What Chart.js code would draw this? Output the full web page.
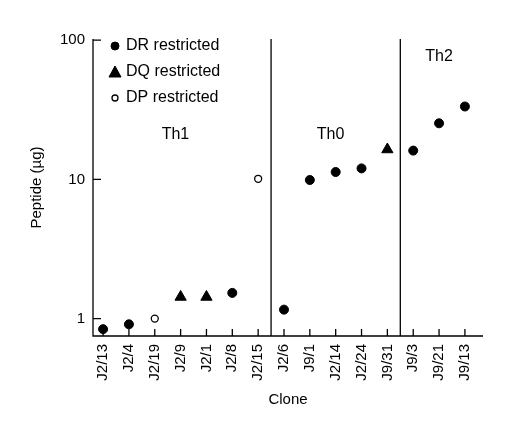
<!DOCTYPE html>
<html>
<head>
<meta charset="utf-8">
<script src="https://cdn.jsdelivr.net/npm/chart.js@4.4.0/dist/chart.umd.min.js"></script>
<style>
  html, body { margin: 0; padding: 0; background: #fff; }
  #wrap { width: 512px; height: 427px; }
</style>
</head>
<body>
<div id="wrap"><canvas id="clones" width="512" height="427"></canvas></div>
<script>
// Clone names along the x axis
const clones = ['J2/13', 'J2/4', 'J2/19', 'J2/9', 'J2/1', 'J2/8', 'J2/15',
                'J2/6', 'J9/1', 'J2/14', 'J2/24', 'J9/31', 'J9/3', 'J9/21', 'J9/13'];

// Peptide (ug) per clone, split by restriction
const drClones = ['J2/13', 'J2/4', 'J2/8', 'J2/6', 'J9/1', 'J2/14', 'J2/24', 'J9/3', 'J9/21', 'J9/13'];
const drValues = [0.84, 0.91, 1.53, 1.16, 9.9, 11.3, 12.0, 16.1, 25.3, 33.4];
const dqClones = ['J2/9', 'J2/1', 'J9/31'];
const dqValues = [1.43, 1.43, 16.4];
const dpClones = ['J2/19', 'J2/15'];
const dpValues = [1.0, 10.1];

const yTicks = [1, 10, 100];
// Th subset boundaries (between clones)
const dividers = [6.5, 11.5];
const groupLabels = ['Th1', 'Th0', 'Th2'];

const FONT = 'Arial, "Liberation Sans", Helvetica, sans-serif';
Chart.defaults.font.family = FONT;
Chart.defaults.color = '#000';

function toPoints(names, values) {
    return names.map((n, i) => ({ x: clones.indexOf(n), y: values[i] }));
}

const seriesStyle = [
    { label: 'DR restricted', pointStyle: 'circle', radius: 4.5, fill: '#000', border: '#000', bw: 1 },
    { label: 'DQ restricted', pointStyle: 'triangle', radius: 6.5, fill: '#000', border: '#000', bw: 1 },
    { label: 'DP restricted', pointStyle: 'circle', radius: 3.5, fill: '#fff', border: '#000', bw: 1.3 }
];

const datasets = [
    toPoints(drClones, drValues),
    toPoints(dqClones, dqValues),
    toPoints(dpClones, dpValues)
].map((data, i) => ({
    label: seriesStyle[i].label,
    data: data,
    pointStyle: seriesStyle[i].pointStyle,
    pointRadius: seriesStyle[i].radius,
    pointBackgroundColor: seriesStyle[i].fill,
    pointBorderColor: seriesStyle[i].border,
    pointBorderWidth: seriesStyle[i].bw,
    showLine: false
}));

// Axes, inward ticks, dividers, legend and group names
const frame = {
    id: 'frame',
    afterDraw(chart) {
        const c = chart.ctx;
        const a = chart.chartArea;
        const xs = chart.scales.x, ys = chart.scales.y;
        c.save();
        c.strokeStyle = '#000';
        c.lineWidth = 1.3;
        c.beginPath();
        c.moveTo(a.left, a.top);
        c.lineTo(a.left, a.bottom);
        c.lineTo(a.right, a.bottom);
        yTicks.forEach(v => {
            const y = ys.getPixelForValue(v);
            c.moveTo(a.left, y);
            c.lineTo(a.left + 8, y);
        });
        clones.forEach((n, i) => {
            const x = xs.getPixelForValue(i);
            c.moveTo(x, a.bottom);
            c.lineTo(x, a.bottom - 7);
        });
        dividers.forEach(d => {
            const x = xs.getPixelForValue(d);
            c.moveTo(x, a.top);
            c.lineTo(x, a.bottom);
        });
        c.stroke();

        // legend
        c.font = '16px ' + FONT;
        c.textBaseline = 'middle';
        seriesStyle.forEach((s, i) => {
            const y = a.top + 7 + i * 26;
            const mx = a.left + 22;
            c.fillStyle = s.fill;
            c.strokeStyle = s.border;
            c.lineWidth = s.bw;
            c.beginPath();
            if (s.pointStyle === 'triangle') {
                c.moveTo(mx, y - 6);
                c.lineTo(mx + 6, y + 5);
                c.lineTo(mx - 6, y + 5);
                c.closePath();
            } else {
                c.arc(mx, y, i === 0 ? 4 : 3, 0, Math.PI * 2);
            }
            c.fill();
            c.stroke();
            c.fillStyle = '#000';
            c.fillText(s.label, a.left + 33, y);
        });

        // Th group names
        c.textAlign = 'center';
        c.fillText(groupLabels[0], xs.getPixelForValue(2.8), a.top + 96);
        c.fillText(groupLabels[1], xs.getPixelForValue(8.8), a.top + 96);
        c.fillText(groupLabels[2], xs.getPixelForValue(13.0), a.top + 18);
        c.restore();
    }
};

new Chart(document.getElementById('clones'), {
    type: 'scatter',
    data: { datasets: datasets },
    plugins: [frame],
    options: {
        responsive: false,
        animation: false,
        layout: { padding: { top: 39, right: 29, left: 28, bottom: 0 } },
        plugins: {
            legend: { display: false },
            tooltip: { enabled: false }
        },
        scales: {
            x: {
                type: 'linear',
                min: -0.39,
                max: 14.7,
                grid: { display: false, drawTicks: false },
                border: { display: false },
                afterBuildTicks: scale => {
                    scale.ticks = clones.map((n, i) => ({ value: i }));
                },
                afterFit: scale => { scale.height = 91; },
                ticks: {
                    autoSkip: false,
                    maxRotation: 90,
                    minRotation: 90,
                    padding: 8,
                    font: { size: 15 },
                    callback: v => clones[v]
                },
                title: {
                    display: true,
                    text: 'Clone',
                    font: { size: 15 },
                    padding: { top: 2, bottom: 18 }
                }
            },
            y: {
                type: 'logarithmic',
                min: 0.75,
                max: 102,
                grid: { display: false, drawTicks: false },
                border: { display: false },
                afterBuildTicks: scale => {
                    scale.ticks = yTicks.map(v => ({ value: v }));
                },
                afterFit: scale => { scale.width = 65; },
                ticks: {
                    padding: 8,
                    font: { size: 15 },
                    callback: v => String(v)
                },
                title: {
                    display: true,
                    text: 'Peptide (\u00b5g)',
                    font: { size: 15 },
                    padding: { top: 0, bottom: 8 }
                }
            }
        }
    }
});
</script>
</body>
</html>
